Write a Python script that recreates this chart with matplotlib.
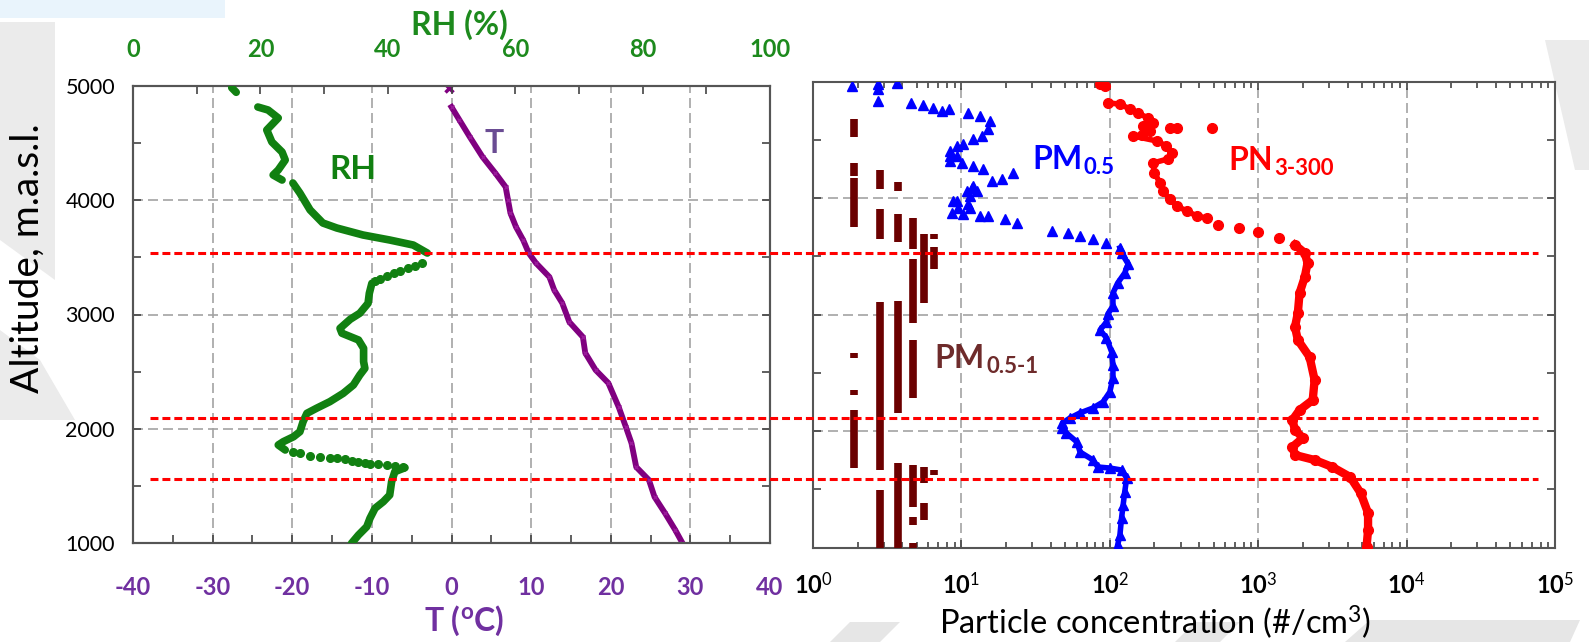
import matplotlib
matplotlib.use("Agg")
import matplotlib.pyplot as plt
import numpy as np
from matplotlib.lines import Line2D
from matplotlib.patches import Polygon
from matplotlib.ticker import MultipleLocator, LogLocator, NullFormatter
from matplotlib.transforms import blended_transform_factory

plt.rcParams['font.family'] = ['Lato', 'DejaVu Sans']
plt.rcParams['mathtext.fontset'] = 'custom'
plt.rcParams['mathtext.rm'] = 'Lato'
plt.rcParams['mathtext.bf'] = 'Lato:bold'
plt.rcParams['mathtext.it'] = 'Lato:italic'

# ---- left panel: temperature profile (degC) ----
t_alt = [4982, 4816, 4702, 4554, 4379, 4238, 4116, 4002, 3888, 3766, 3652, 3538, 3451,
         3328, 3214, 3101, 2934, 2803, 2663, 2514, 2400, 2190, 2015, 1875, 1665, 1551,
         1403, 1263, 1114, 1000]
t_val = [-0.3, 0.0, 1.0, 2.3, 3.9, 5.5, 6.8, 7.1, 7.4, 8.1, 9.0, 9.7, 10.6,
         12.3, 12.9, 13.9, 14.8, 16.5, 16.8, 18.1, 19.7, 21.0, 21.9, 22.6, 23.2, 24.8,
         25.5, 26.8, 28.1, 29.0]

# ---- left panel: relative humidity (%), dense stretches and sparse dots ----
rh_segments = [
    ([4985, 4945], [15.5, 16.2]),
    ([4816, 4790, 4720, 4615, 4510, 4422, 4352, 4265, 4221, 4177],
     [19.6, 21.2, 22.8, 21.0, 21.8, 23.4, 23.9, 22.8, 22.0, 23.4]),
    ([4151, 4063, 3915, 3801, 3757, 3696, 3652, 3608, 3538],
     [25.1, 26.2, 27.8, 29.8, 32.0, 36.1, 40.3, 44.0, 46.2]),
    ([3273, 3186, 3098, 3011, 2958, 2879, 2836, 2777, 2704, 2587, 2529, 2470, 2383,
      2310, 2237, 2179, 2135, 2062, 1974, 1930, 1887, 1858, 1814],
     [37.5, 37.1, 36.9, 35.6, 34.1, 32.5, 32.8, 35.4, 36.2, 36.2, 36.4, 35.6, 34.6,
      33.0, 30.9, 28.8, 27.3, 26.7, 26.2, 25.2, 23.6, 22.8, 23.9]),
    ([1659, 1624, 1537, 1420, 1362, 1304, 1216, 1143, 1070, 997],
     [42.7, 41.1, 40.6, 40.3, 39.3, 38.0, 37.2, 36.7, 35.4, 34.3]),
]
rh_dot_alt = [3453, 3425, 3404, 3383, 3361, 3337, 3311, 3293,
              1799, 1785, 1764, 1755, 1747, 1741, 1733, 1720, 1712, 1703, 1694, 1689,
              1683, 1674, 1663]
rh_dot_val = [45.3, 44.3, 43.2, 41.9, 40.9, 39.8, 38.8, 38.0,
              25.1, 26.2, 27.8, 29.4, 30.9, 32.0, 33.3, 34.4, 35.3, 36.4, 37.2, 38.5,
              39.9, 41.1, 42.4]

# ---- right panel: particle concentrations (#/cm3) ----
pm05_alt = [4990, 4979, 4961, 4936, 4833, 4815, 4798, 4773, 4747, 4764, 4730, 4704, 4661,
            4592, 4532, 4506, 4464, 4446, 4403, 4361, 4361, 4318, 4300, 4275, 4249, 4146,
            4163, 4215, 4103, 4086, 4060, 4060, 4017, 3974, 3974, 3948, 3914, 3914, 3871,
            3863, 3845, 3845, 3820, 3785, 3717, 3700, 3674, 3648, 3614,
            3571, 3528, 3433, 3356, 3270, 3184, 3073, 3004, 2936, 2867, 2798, 2678, 2567,
            2455, 2335, 2249, 2197, 2155, 2112, 2069, 2026, 1983, 1906, 1820, 1751, 1691,
            1682, 1665, 1596, 1476, 1365, 1253, 1107, 1021]
pm05_val = [3.67, 2.74, 1.82, 2.74, 2.74, 4.6, 5.5, 6.4, 7.4, 8.3, 11.0, 13.3, 15.5,
            15.1, 13.7, 12.0, 10.2, 9.3, 8.4, 8.4, 9.3, 8.4, 10.1, 12.0, 14.0, 16.0,
            18.7, 22.2, 12.0, 11.8, 10.9, 12.7, 11.4, 8.8, 9.3, 11.0, 11.4, 9.5, 8.6,
            10.2, 13.3, 15.1, 19.6, 23.6, 41, 52, 63, 77, 95,
            117, 120, 133, 126, 113, 105, 105, 97, 95, 86, 95, 103, 105,
            105, 100, 90, 77, 63, 54, 48, 48, 51, 60, 63, 77, 83,
            100, 120, 130, 126, 123, 120, 117, 113]

# main PN3-300 path, plus a few detached high readings near 4600 m
pn_alt = [4979, 4961, 4815, 4807, 4764, 4730, 4687, 4644, 4618, 4575, 4541, 4532,
          4489, 4446, 4386, 4335, 4300, 4215, 4129, 4060, 3991, 3931, 3888,
          3845, 3828, 3768, 3742, 3708, 3657, 3597, 3528, 3442, 3322, 3184, 3013, 2893,
          2781, 2635, 2438, 2266, 2180, 2094, 2009, 1940, 1863, 1794, 1751, 1691, 1605,
          1468, 1296, 1150, 1004]
pn_val = [86, 93, 98, 117, 136, 155, 180, 195, 167, 186, 165, 144,
          208, 240, 261, 246, 195, 200, 218, 229, 253, 282, 331,
          386, 450, 540, 740, 1000, 1380, 1770, 2060, 2150, 2060, 1900, 1850, 1770,
          1850, 2220, 2400, 2330, 1900, 1700, 1770, 2000, 1700, 1770, 2400, 3160, 4170,
          4900, 5500, 5500, 5370]
pn_out_alt = [4601, 4601, 4601]
pn_out_val = [253, 285, 492]

# PM0.5-1 comes in discrete counting levels: runs of equal value (level, top, bottom)
pm051_level = [1.88, 1.88, 1.88, 1.88, 1.88, 1.88,
               2.82, 2.82, 2.82, 2.82,
               3.76, 3.76, 3.76, 3.76,
               4.70, 4.70, 4.70, 4.70, 4.70, 4.70,
               5.64, 5.64, 5.64,
               6.58, 6.58, 6.58]
pm051_top = [4681, 4298, 4174, 2667, 2352, 2180,
             4240, 3908, 3107, 1494,
             4137, 3865, 3116, 1725,
             3831, 3479, 2781, 1708, 1262, 1039,
             3691, 1691, 1382,
             3691, 3579, 1665]
pm051_bot = [4526, 4189, 3754, 2624, 2309, 1685,
             4077, 3651, 1665, 979,
             4060, 3622, 2155, 979,
             3560, 2927, 2283, 1348, 1193, 979,
             3099, 1554, 1236,
             3648, 3391, 1622]

layer_alts = [3538, 2094, 1560]

alt_ticks = [1000, 2000, 3000, 4000, 5000]
t_ticks = [-40, -30, -20, -10, 0, 10, 20, 30, 40]
rh_ticks = [0, 20, 40, 60, 80, 100]
conc_ticks = [1, 10, 100, 1000, 10000, 100000]
conc_labels = ['10$^{0}$', '10$^{1}$', '10$^{2}$', '10$^{3}$', '10$^{4}$', '10$^{5}$']

GREEN = '#118011'
TICK_GREEN = '#1d8a1d'
PURPLE = '#800080'
TICK_PURPLE = '#7030a0'
BLUE = '#0000ff'
RED = '#ff0000'
BROWN = '#6b0000'
BROWN_TXT = '#6e2b2b'
GRID = dict(color='#a3a3a3', linestyle=(0, (6, 3)), linewidth=1.2)

W, H = 1589, 642
fig = plt.figure(figsize=(W / 100, H / 100), dpi=100)

# faint slide decorations behind the chart (pixel polygons)
deco = [
    ([(0, 0), (225, 0), (225, 18), (0, 18)], '#e9f4fc'),
    ([(0, 22), (55, 22), (55, 280), (0, 240)], '#ebebeb'),
    ([(0, 330), (40, 360), (75, 420), (0, 420)], '#ebebeb'),
    ([(830, 642), (850, 622), (900, 622), (880, 642)], '#e6e6e6'),
    ([(1175, 642), (1195, 622), (1240, 622), (1220, 642)], '#e6e6e6'),
    ([(1345, 642), (1370, 620), (1580, 620), (1570, 642)], '#e6e6e6'),
    ([(1545, 40), (1589, 40), (1589, 170), (1575, 170)], '#ebebeb'),
]
for pts, col in deco:
    fig.add_artist(Polygon([(x / W, 1 - y / H) for x, y in pts], closed=True,
                           transform=fig.transFigure, facecolor=col, edgecolor='none',
                           zorder=-5))


def px_axes(x0, y0, x1, y1):
    return fig.add_axes([x0 / W, 1 - y1 / H, (x1 - x0) / W, (y1 - y0) / H])


def style_spines(ax):
    for s in ax.spines.values():
        s.set_color('#555555')
        s.set_linewidth(1.5)


# ---------------- left panel ----------------
ax_t = px_axes(133, 86, 770, 543)
ax_t.set_xlim(-40, 40)
ax_t.set_ylim(1000, 5000)
ax_t.set_xticks(t_ticks)
ax_t.set_xticklabels([str(v) for v in t_ticks], fontweight='bold', color=TICK_PURPLE, fontsize=17)
ax_t.xaxis.set_minor_locator(MultipleLocator(5))
ax_t.set_yticks(alt_ticks)
ax_t.set_yticklabels([str(v) for v in alt_ticks], fontsize=15.5)
ax_t.yaxis.set_minor_locator(MultipleLocator(500))
ax_t.tick_params(axis='x', which='both', direction='in', length=6, width=1.2,
                 color='#444444', pad=24)
ax_t.tick_params(axis='y', which='both', direction='in', length=6, width=1.2,
                 color='#444444', left=True, right=True, pad=13)
ax_t.grid(True, which='major', **GRID)
ax_t.set_axisbelow(True)
style_spines(ax_t)

ax_t.plot(t_val[1:], t_alt[1:], color=PURPLE, lw=4.2, solid_joinstyle='round', zorder=3)
ax_t.plot(t_val[1:], t_alt[1:], color='#9a1a9a', ls='none', marker='x', ms=3.5, mew=1.0, zorder=3)
ax_t.plot(t_val[:1], t_alt[:1], color=PURPLE, ls='none', marker='x', ms=6, mew=2.5, zorder=3)

ax_rh = ax_t.twiny()
ax_rh.set_xlim(0, 100)
ax_rh.set_xticks(rh_ticks)
ax_rh.set_xticklabels([str(v) for v in rh_ticks], fontweight='bold', color=TICK_GREEN, fontsize=17)
ax_rh.xaxis.set_minor_locator(MultipleLocator(10))
ax_rh.tick_params(axis='x', which='both', direction='in', length=6, width=1.2,
                  color='#444444', pad=18)
style_spines(ax_rh)
for seg_alt, seg_val in rh_segments:
    ax_rh.plot(seg_val, seg_alt, color=GREEN, lw=5.5, solid_capstyle='round',
               solid_joinstyle='round', zorder=3)
ax_rh.plot(rh_dot_val, rh_dot_alt, 'o', color=GREEN, ms=5.5, zorder=3)

ax_t.text(-12.4, 4265, 'RH', color=GREEN, fontsize=24, fontweight='bold', ha='center', va='center')
ax_t.text(5.4, 4501, 'T', color='#6a4c93', fontsize=23, fontweight='bold', ha='center', va='center')

fig.text(459 / W, 1 - 25 / H, 'RH (%)', color=TICK_GREEN, fontsize=23, fontweight='bold',
         ha='center', va='center')
fig.text(464 / W, 1 - 621 / H, r'T ($^{\mathbf{o}}$C)', color=TICK_PURPLE, fontsize=23,
         fontweight='bold', ha='center', va='center')
fig.text(28 / W, 1 - 258 / H, 'Altitude, m.a.s.l.', fontsize=28, rotation=90,
         ha='center', va='center')

# ---------------- right panel ----------------
ax_p = px_axes(813, 81.5, 1555, 547.5)
ax_p.set_xscale('log')
ax_p.set_xlim(1, 1e5)
ax_p.set_ylim(1000, 5000)
ax_p.set_xticks(conc_ticks)
ax_p.set_xticklabels(conc_labels, fontweight='bold', fontsize=17)
ax_p.xaxis.set_minor_locator(LogLocator(base=10, subs=np.arange(2, 10)))
ax_p.xaxis.set_minor_formatter(NullFormatter())
ax_p.set_yticks(alt_ticks)
ax_p.set_yticklabels([])
ax_p.yaxis.set_minor_locator(MultipleLocator(500))
ax_p.tick_params(axis='x', which='both', direction='in', length=6, width=1.2,
                 color='#444444', top=True, bottom=True, pad=17)
ax_p.tick_params(axis='x', which='minor', length=4)
ax_p.tick_params(axis='y', which='both', direction='in', length=6, width=1.2,
                 color='#444444', left=True, right=True)
ax_p.grid(True, which='major', **GRID)
ax_p.set_axisbelow(True)
style_spines(ax_p)

ax_p.vlines(pm051_level, pm051_bot, pm051_top, color=BROWN, lw=5.5, zorder=3)

pm05_alt_a = np.array(pm05_alt)
pm05_val_a = np.array(pm05_val)
dense = pm05_alt_a <= 3571
ax_p.plot(pm05_val_a[dense], pm05_alt_a[dense], color=BLUE, lw=4, zorder=3)
ax_p.plot(pm05_val, pm05_alt, '^', color=BLUE, ms=6.5, ls='none', zorder=3)

pn_alt_a = np.array(pn_alt)
pn_val_a = np.array(pn_val)
upper = (pn_alt_a <= 4815) & (pn_alt_a >= 3828)
lower = pn_alt_a <= 3597
ax_p.plot(pn_val_a[upper], pn_alt_a[upper], color=RED, lw=4, zorder=3)
ax_p.plot(pn_val_a[lower], pn_alt_a[lower], color=RED, lw=6, zorder=3)
ax_p.plot(pn_val, pn_alt, 'o', color=RED, ms=7, ls='none', zorder=3)
ax_p.plot(pn_out_val, pn_out_alt, 'o', color=RED, ms=7, ls='none', zorder=3)


def sub_label(ax, x, y, main, sub, color):
    t = ax.text(x, y, main, color=color, fontsize=23, fontweight='bold', va='baseline', ha='left')
    ax.annotate(sub, xy=(1, 0), xycoords=t, xytext=(1, 0), textcoords='offset points',
                color=color, fontsize=16, fontweight='bold', va='baseline', ha='left')


sub_label(ax_p, 29.9, 4249, 'PM', '0.5', BLUE)
sub_label(ax_p, 632, 4240, 'PN', '3-300', RED)
sub_label(ax_p, 6.6, 2541, 'PM', '0.5-1', BROWN_TXT)

fig.text(1155 / W, 1 - 622 / H, 'Particle concentration (#/cm$^{3}$)', fontsize=23.5,
         ha='center', va='center')

# layer boundaries drawn straight across both panels
tr = blended_transform_factory(fig.transFigure, ax_t.transData)
for a in layer_alts:
    fig.add_artist(Line2D([150 / W, 1538 / W], [a, a], transform=tr, color=RED, lw=2.2,
                          linestyle=(0, (2.6, 1.3)), zorder=10))

fig.savefig('out.png', dpi=100)
